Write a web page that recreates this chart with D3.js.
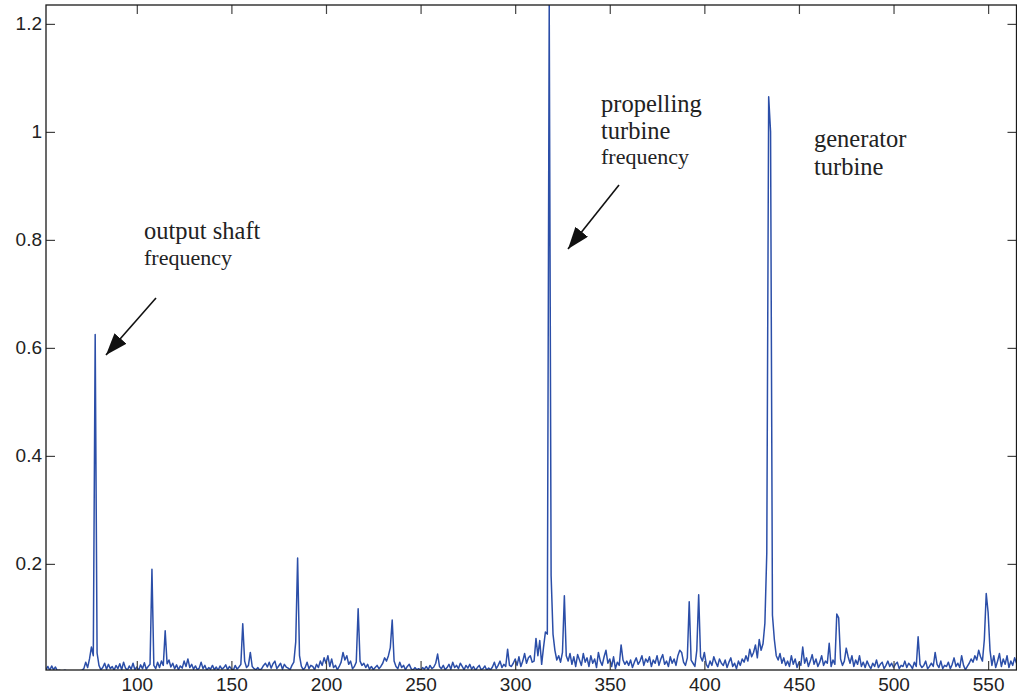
<!DOCTYPE html>
<html>
<head>
<meta charset="utf-8">
<script src="https://cdn.jsdelivr.net/npm/d3@7"></script>
<style>
  html, body { margin: 0; padding: 0; background: #fff; }
  svg { display: block; }
</style>
</head>
<body>
<svg id="chart" width="1017" height="698"></svg>
<script>
// spectrum samples, one per unit of frequency starting at freqStart
const freqStart = 52;
const amplitude = [
  0.004, 0.010, 0.003, 0.011, 0.004, 0.009, 0.002, 0.003,                // 52-59
  0.002, 0.002, 0.003, 0.002, 0.002, 0.001, 0.002, 0.002, 0.001, 0.002,  // 60
  0.002, 0.003, 0.006, 0.018, 0.008, 0.024, 0.046, 0.030, 0.625, 0.035,  // 70
  0.012, 0.004, 0.008, 0.016, 0.005, 0.014, 0.006, 0.010, 0.003, 0.012,  // 80
  0.006, 0.015, 0.004, 0.018, 0.007, 0.003, 0.011, 0.005, 0.016, 0.004,  // 90
  0.009, 0.003, 0.013, 0.006, 0.017, 0.005, 0.010, 0.014, 0.190, 0.012,  // 100
  0.006, 0.018, 0.008, 0.020, 0.012, 0.076, 0.015, 0.022, 0.009, 0.016,  // 110
  0.006, 0.013, 0.004, 0.011, 0.007, 0.020, 0.010, 0.024, 0.008, 0.014,  // 120
  0.005, 0.011, 0.004, 0.007, 0.018, 0.006, 0.012, 0.003, 0.008, 0.005,  // 130
  0.012, 0.004, 0.009, 0.003, 0.011, 0.005, 0.008, 0.013, 0.004, 0.010,  // 140
  0.006, 0.003, 0.012, 0.005, 0.009, 0.014, 0.089, 0.020, 0.008, 0.012,  // 150
  0.036, 0.010, 0.006, 0.004, 0.008, 0.003, 0.006, 0.012, 0.016, 0.009,  // 160
  0.018, 0.007, 0.015, 0.020, 0.006, 0.011, 0.016, 0.005, 0.014, 0.009,  // 170
  0.007, 0.004, 0.012, 0.018, 0.055, 0.211, 0.030, 0.010, 0.004, 0.008,  // 180
  0.018, 0.006, 0.012, 0.010, 0.004, 0.014, 0.008, 0.020, 0.012, 0.026,  // 190
  0.016, 0.030, 0.010, 0.024, 0.008, 0.012, 0.004, 0.010, 0.018, 0.036,  // 200
  0.022, 0.030, 0.014, 0.020, 0.006, 0.010, 0.018, 0.117, 0.020, 0.012,  // 210
  0.016, 0.008, 0.014, 0.005, 0.010, 0.004, 0.008, 0.012, 0.006, 0.010,  // 220
  0.016, 0.026, 0.020, 0.030, 0.045, 0.096, 0.020, 0.010, 0.006, 0.018,  // 230
  0.008, 0.012, 0.004, 0.010, 0.014, 0.006, 0.003, 0.008, 0.004, 0.006,  // 240
  0.003, 0.008, 0.005, 0.010, 0.004, 0.012, 0.006, 0.009, 0.016, 0.033,  // 250
  0.010, 0.006, 0.012, 0.004, 0.008, 0.014, 0.005, 0.018, 0.008, 0.012,  // 260
  0.006, 0.016, 0.010, 0.004, 0.012, 0.007, 0.014, 0.005, 0.010, 0.003,  // 270
  0.008, 0.012, 0.004, 0.006, 0.011, 0.003, 0.007, 0.004, 0.009, 0.018,  // 280
  0.006, 0.012, 0.020, 0.008, 0.014, 0.010, 0.042, 0.012, 0.010, 0.016,  // 290
  0.024, 0.012, 0.028, 0.010, 0.020, 0.034, 0.016, 0.026, 0.030, 0.018,  // 300
  0.020, 0.062, 0.030, 0.058, 0.014, 0.046, 0.074, 0.070, 1.235, 0.178,  // 310
  0.070, 0.040, 0.022, 0.030, 0.018, 0.036, 0.141, 0.030, 0.020, 0.034,  // 320
  0.014, 0.028, 0.010, 0.032, 0.022, 0.012, 0.034, 0.018, 0.026, 0.010,  // 330
  0.030, 0.016, 0.024, 0.008, 0.036, 0.020, 0.012, 0.028, 0.040, 0.016,  // 340
  0.024, 0.010, 0.028, 0.006, 0.018, 0.012, 0.050, 0.022, 0.014, 0.020,  // 350
  0.012, 0.022, 0.008, 0.018, 0.026, 0.014, 0.020, 0.030, 0.012, 0.024,  // 360
  0.018, 0.028, 0.010, 0.022, 0.016, 0.030, 0.012, 0.024, 0.032, 0.014,  // 370
  0.020, 0.010, 0.028, 0.016, 0.024, 0.012, 0.030, 0.040, 0.036, 0.018,  // 380
  0.012, 0.026, 0.130, 0.022, 0.016, 0.010, 0.040, 0.143, 0.028, 0.020,  // 390
  0.036, 0.014, 0.008, 0.020, 0.012, 0.028, 0.018, 0.010, 0.024, 0.016,  // 400
  0.012, 0.022, 0.008, 0.018, 0.026, 0.010, 0.016, 0.006, 0.020, 0.012,  // 410
  0.024, 0.018, 0.030, 0.020, 0.042, 0.028, 0.036, 0.050, 0.026, 0.060,  // 420
  0.040, 0.052, 0.090, 0.220, 1.065, 1.000, 0.105, 0.060, 0.030, 0.022,  // 430
  0.034, 0.016, 0.026, 0.012, 0.020, 0.010, 0.030, 0.014, 0.024, 0.008,  // 440
  0.018, 0.012, 0.046, 0.016, 0.026, 0.010, 0.020, 0.032, 0.014, 0.024,  // 450
  0.010, 0.018, 0.030, 0.012, 0.020, 0.016, 0.053, 0.010, 0.022, 0.014,  // 460
  0.107, 0.100, 0.024, 0.012, 0.020, 0.044, 0.028, 0.016, 0.030, 0.010,  // 470
  0.022, 0.014, 0.030, 0.010, 0.018, 0.008, 0.020, 0.012, 0.006, 0.016,  // 480
  0.010, 0.022, 0.008, 0.014, 0.018, 0.006, 0.012, 0.020, 0.010, 0.016,  // 490
  0.008, 0.014, 0.018, 0.006, 0.012, 0.010, 0.020, 0.008, 0.016, 0.012,  // 500
  0.006, 0.018, 0.010, 0.065, 0.014, 0.008, 0.012, 0.020, 0.006, 0.010,  // 510
  0.016, 0.010, 0.036, 0.014, 0.008, 0.020, 0.006, 0.012, 0.010, 0.018,  // 520
  0.006, 0.014, 0.026, 0.010, 0.016, 0.008, 0.030, 0.012, 0.004, 0.010,  // 530
  0.016, 0.024, 0.018, 0.030, 0.022, 0.040, 0.028, 0.020, 0.060, 0.145,  // 540
  0.110, 0.040, 0.012, 0.030, 0.008, 0.020, 0.034, 0.010, 0.024, 0.014,  // 550
  0.030, 0.008, 0.020, 0.012, 0.026, 0.016                               // 560-565
];
const xTicks = [100, 150, 200, 250, 300, 350, 400, 450, 500, 550];
const yTicks = [0.2, 0.4, 0.6, 0.8, 1, 1.2];
const notes = [
  { lines: ["output shaft", "frequency"] },
  { lines: ["propelling", "turbine", "frequency"] },
  { lines: ["generator", "turbine"] }
];

const svg = d3.select("#chart");
const m = { left: 46, right: 1016.5, top: 5, bottom: 670 };

const x = d3.scaleLinear().domain([52, 565]).range([m.left, m.right]);
const y = d3.scaleLinear().domain([0.0035, 1.235]).range([m.bottom, m.top]);

const points = amplitude.map((a, i) => ({ f: freqStart + i, a }));

const defs = svg.append("defs");
defs.append("clipPath").attr("id", "plot-clip")
  .append("rect")
  .attr("x", m.left).attr("y", m.top)
  .attr("width", m.right - m.left).attr("height", m.bottom - m.top);

const line = d3.line().x(d => x(d.f)).y(d => y(d.a));

svg.append("path")
  .datum(points)
  .attr("clip-path", "url(#plot-clip)")
  .attr("fill", "none")
  .attr("stroke", "#2b4ea8")
  .attr("stroke-width", 1.5)
  .attr("stroke-linejoin", "round")
  .attr("d", line);

// axes: inside ticks on all four sides, labels only bottom/left
const tickLen = 9;
const axisStyle = g => {
  g.select(".domain").remove();
  g.selectAll(".tick line").attr("stroke", "#444").attr("stroke-width", 1.2);
  g.selectAll(".tick text")
    .attr("font-family", "'Liberation Sans', Arial, sans-serif")
    .attr("font-size", 19)
    .attr("fill", "#222");
};

svg.append("g")
  .attr("transform", `translate(0,${m.bottom})`)
  .call(d3.axisBottom(x).tickValues(xTicks).tickSize(-tickLen).tickFormat(d3.format("d")))
  .call(axisStyle)
  .call(g => g.selectAll(".tick text").attr("y", 8).attr("dy", "0.71em"));

svg.append("g")
  .attr("transform", `translate(0,${m.top})`)
  .call(d3.axisTop(x).tickValues(xTicks).tickSize(-tickLen).tickFormat(""))
  .call(axisStyle);

svg.append("g")
  .attr("transform", `translate(${m.left},0)`)
  .call(d3.axisLeft(y).tickValues(yTicks).tickSize(-tickLen).tickFormat(d3.format("~g")))
  .call(axisStyle)
  .call(g => g.selectAll(".tick text").attr("x", -4));

svg.append("g")
  .attr("transform", `translate(${m.right},0)`)
  .call(d3.axisRight(y).tickValues(yTicks).tickSize(-tickLen).tickFormat(""))
  .call(axisStyle);

svg.append("rect")
  .attr("x", m.left).attr("y", m.top)
  .attr("width", m.right - m.left).attr("height", m.bottom - m.top)
  .attr("fill", "none")
  .attr("stroke", "#1a1a1a")
  .attr("stroke-width", 1.3);

// annotations
defs.append("marker")
  .attr("id", "arrowhead")
  .attr("markerUnits", "userSpaceOnUse")
  .attr("viewBox", "0 0 22 16")
  .attr("refX", 22).attr("refY", 8)
  .attr("markerWidth", 22).attr("markerHeight", 16)
  .attr("orient", "auto")
  .append("path")
  .attr("d", "M0,0 L22,8 L0,16 Z")
  .attr("fill", "#111");

const notePos = [
  { x: 144, y: 239, sizes: [24.5, 22], gap: [0, 26] },
  { x: 601, y: 112, sizes: [24.5, 24.5, 22], gap: [0, 27, 25] },
  { x: 814, y: 147, sizes: [24.5, 24.5], gap: [0, 28] }
];

notes.forEach((n, i) => {
  const p = notePos[i];
  const t = svg.append("text")
    .attr("x", p.x).attr("y", p.y)
    .attr("font-family", "'Liberation Serif', 'Times New Roman', serif")
    .attr("fill", "#222");
  n.lines.forEach((s, j) => {
    t.append("tspan")
      .attr("x", p.x)
      .attr("dy", p.gap[j])
      .attr("font-size", p.sizes[j])
      .text(s);
  });
});

const arrows = [
  [[156, 298], [106, 355]],
  [[619, 185], [568, 249]]
];
svg.selectAll(".arrow")
  .data(arrows)
  .join("line")
  .attr("class", "arrow")
  .attr("x1", d => d[0][0]).attr("y1", d => d[0][1])
  .attr("x2", d => d[1][0]).attr("y2", d => d[1][1])
  .attr("stroke", "#111")
  .attr("stroke-width", 1.6)
  .attr("marker-end", "url(#arrowhead)");
</script>
</body>
</html>
